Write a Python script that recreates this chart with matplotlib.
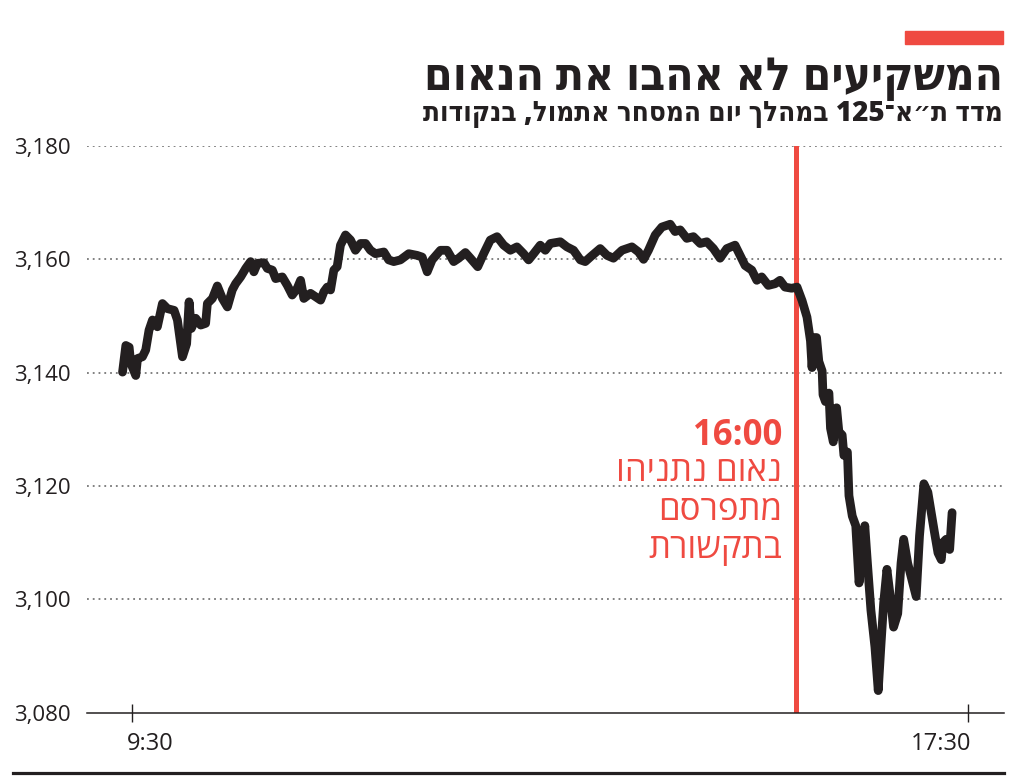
import re
import matplotlib
matplotlib.use("Agg")
import matplotlib.pyplot as plt
from matplotlib.transforms import ScaledTranslation

# minutes after 9:30 and TA-125 index values
minutes = [
    -5.3, -3.4, -1.5, -0.6, 2.3, 3.3, 6.1, 8.0, 9.9, 11.9, 14.7, 17.6, 20.5, 24.3,
    26.2, 29.1, 31.5, 32.9, 34.2, 36.7, 39.6, 42.4, 43.4, 46.3, 49.1, 52.0, 54.9,
    57.7, 59.6, 62.5, 65.4, 68.2, 70.1, 72.1, 75.9, 77.8, 80.7, 82.6, 86.4, 89.3,
    92.1, 95.0, 96.9, 98.8, 102.6, 105.5, 108.4, 110.3, 112.2, 114.1, 116.0, 117.9,
    119.8, 122.7, 125.6, 128.4, 131.3, 134.2, 137.0, 139.9, 144.7, 147.5, 150.4,
    154.2, 159.0, 163.8, 166.7, 169.6, 172.4, 177.2, 181.0, 184.8, 187.7, 191.5,
    194.4, 198.6, 202.0, 205.8, 209.7, 213.5, 217.3, 221.1, 224.9, 227.8, 230.7,
    234.5, 237.4, 240.3, 246.0, 249.8, 253.6, 257.5, 260.3, 263.2, 268.9, 272.8,
    276.5, 281.4, 287.1, 290.9, 293.8, 296.6, 300.5, 304.3, 309.1, 311.9, 314.8,
    318.6, 322.4, 326.3, 330.1, 333.9, 337.7, 341.6, 346.3, 349.2, 352.1, 355.9,
    358.8, 361.6, 365.4, 369.3, 372.1, 375.0, 378.8, 381.9, 384.8, 387.6, 389.6,
    390.5, 391.5, 393.1, 394.4, 396.3, 396.8, 398.2, 400.2, 401.1, 402.7, 404.6,
    405.9, 407.8, 408.8, 410.8, 411.7, 413.6, 415.6, 417.5, 419.0, 420.8, 422.3,
    424.3, 426.6, 428.5, 430.0, 431.6, 433.5, 435.4, 437.3, 439.7, 441.6, 443.1,
    445.4, 448.3, 450.3, 452.2, 454.7, 457.0, 458.9, 460.8, 462.8, 464.7, 465.6,
    467.5, 469.5, 470.9,
]
values = [
    3140.1, 3144.8, 3144.5, 3141.7, 3139.5, 3142.5, 3142.8, 3144.0, 3147.5, 3149.3,
    3148.1, 3152.2, 3151.3, 3151.0, 3149.3, 3142.8, 3145.1, 3152.5, 3147.8, 3149.6,
    3148.4, 3148.7, 3152.2, 3153.1, 3155.3, 3153.1, 3151.6, 3154.6, 3155.7, 3156.9,
    3158.4, 3159.6, 3157.8, 3159.3, 3159.4, 3158.4, 3158.1, 3156.6, 3156.9, 3155.4,
    3153.7, 3154.9, 3156.3, 3153.1, 3154.0, 3153.4, 3152.8, 3154.3, 3155.1, 3154.6,
    3158.1, 3158.7, 3162.5, 3164.3, 3163.4, 3161.6, 3162.8, 3162.8, 3161.6, 3161.0,
    3161.3, 3159.9, 3159.6, 3159.9, 3161.0, 3160.7, 3160.4, 3157.8, 3159.9, 3161.6,
    3161.6, 3159.6, 3160.2, 3161.2, 3160.2, 3158.7, 3161.0, 3163.4, 3164.0, 3162.5,
    3161.6, 3162.2, 3161.0, 3159.9, 3161.0, 3162.5, 3161.6, 3162.8, 3163.1, 3162.2,
    3161.6, 3159.9, 3159.6, 3160.4, 3161.9, 3160.7, 3160.2, 3161.6, 3162.2, 3161.3,
    3160.0, 3161.6, 3164.3, 3165.7, 3166.2, 3164.9, 3165.2, 3163.7, 3164.0, 3162.8,
    3163.1, 3161.9, 3160.2, 3161.9, 3162.5, 3160.7, 3158.9, 3158.1, 3156.3, 3156.9,
    3155.4, 3155.7, 3156.3, 3155.1, 3154.9, 3155.1, 3152.7, 3149.8, 3145.6, 3140.9,
    3146.2, 3146.2, 3142.0, 3140.3, 3136.1, 3134.9, 3136.4, 3130.2, 3127.8, 3133.8,
    3129.6, 3129.0, 3125.4, 3126.0, 3118.3, 3114.7, 3113.0, 3102.9, 3107.6, 3113.0,
    3106.4, 3098.1, 3091.6, 3083.9, 3091.6, 3099.3, 3105.3, 3100.5, 3095.1, 3097.5,
    3106.4, 3110.6, 3106.4, 3102.9, 3100.5, 3111.2, 3120.4, 3118.9, 3115.3, 3111.8,
    3108.2, 3107.0, 3110.0, 3110.6, 3108.8, 3115.3,
]

y_ticks = [3080, 3100, 3120, 3140, 3160, 3180]
x_ticks = [0, 480]
x_tick_labels = ["9:30", "17:30"]
speech_minute = 381.5  # the 16:00 marker as drawn

title = "המשקיעים לא אהבו את הנאום"
subtitle = "מדד ת״א־125 במהלך יום המסחר אתמול, בנקודות"
speech_time = "16:00"
speech_lines = ["נאום נתניהו", "מתפרסם", "בתקשורת"]

RED = "#EF4A41"
INK = "#231F20"


def rtl(s):
    # matplotlib has no bidi support: flip the string, keep digit runs in order
    r = s[::-1]
    return re.sub(r"\d+", lambda m: m.group(0)[::-1], r)


plt.rcParams["font.family"] = ["Open Sans", "DejaVu Sans"]

fig = plt.figure(figsize=(10.24, 7.82), dpi=100)
ax = fig.add_axes([87 / 1024, 69.3 / 782, 917 / 1024, 566.7 / 782])

ax.set_xlim(-25.7, 500.7)
ax.set_ylim(3080, 3180)

for y in y_ticks[1:]:
    ax.axhline(y, color="#777777", lw=1.3, ls=(0, (1, 2.2)), zorder=1)

ax.axvline(speech_minute, color=RED, lw=3.6, zorder=2)
ax.plot(minutes, values, color=INK, lw=6.3, solid_joinstyle="round",
        solid_capstyle="round", zorder=3)

for s in ["top", "right", "left"]:
    ax.spines[s].set_visible(False)
ax.spines["bottom"].set_linewidth(1.1)
ax.spines["bottom"].set_color(INK)

ax.set_yticks(y_ticks)
ax.set_yticklabels([f"{v:,}" for v in y_ticks])
ax.tick_params(axis="y", length=0, pad=11.5, labelsize=16, labelcolor=INK)
ax.set_xticks(x_ticks)
ax.set_xticklabels(x_tick_labels)
ax.tick_params(axis="x", direction="inout", length=13.5, width=1, color=INK,
               pad=7, labelsize=17, labelcolor=INK)
xl = ax.get_xticklabels()
xl[0].set_horizontalalignment("left")
xl[0].set_transform(xl[0].get_transform() + ScaledTranslation(-5 / 100, 0, fig.dpi_scale_trans))
xl[1].set_horizontalalignment("right")
xl[1].set_transform(xl[1].get_transform() + ScaledTranslation(3 / 100, 0, fig.dpi_scale_trans))

# annotation next to the red line
fig.text(782 / 1024, 1 - 436 / 782, speech_time, color=RED, fontsize=25,
         fontweight="bold", ha="right", va="center")
for i, line in enumerate(speech_lines):
    fig.text(782 / 1024, 1 - (472 + 38.5 * i) / 782, rtl(line), color=RED,
             fontsize=25, ha="right", va="center")

# header
fig.patches.append(plt.Rectangle((905 / 1024, 1 - 44 / 782), 98 / 1024, 13 / 782,
                                 transform=fig.transFigure, color=RED))
fig.text(1003 / 1024, 1 - 78 / 782, rtl(title), color=INK, fontsize=33,
         fontweight="heavy", fontstretch="condensed", ha="right", va="center")
fig.text(1003 / 1024, 1 - 113 / 782, rtl(subtitle), color=INK, fontsize=20,
         fontweight="heavy", fontstretch="condensed", ha="right", va="center")

# bottom rule
fig.add_artist(plt.Line2D([13 / 1024, 1004 / 1024], [1 - 772.7 / 782] * 2,
                          transform=fig.transFigure, color=INK, lw=2.3))

fig.savefig("out.png", dpi=100)
